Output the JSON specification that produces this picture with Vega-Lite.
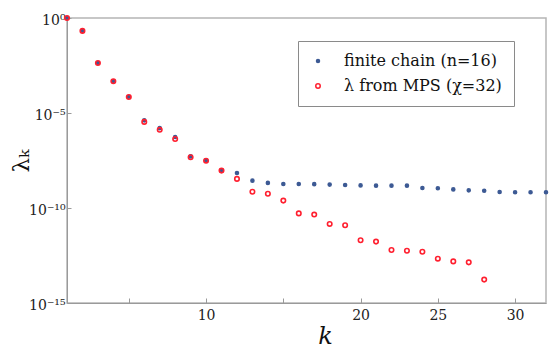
{
  "$schema": "https://vega.github.io/schema/vega-lite/v6.json",
  "width": 479,
  "height": 285,
  "autosize": {"type": "none"},
  "padding": {"left": 67, "top": 18, "right": 8, "bottom": 49},
  "background": "white",
  "config": {
    "view": {"stroke": "#b5b5b5", "strokeWidth": 1.5},
    "font": "DejaVu Serif",
    "axis": {"domainColor": "#9a9a9a", "tickColor": "#9a9a9a", "grid": false, "labelFont": "DejaVu Serif", "labelColor": "#222", "titleFont": "DejaVu Serif", "titleColor": "#111"},
    "legend": {"labelFont": "DejaVu Serif"}
  },
  "data": {
    "values": [
      {"k": 1, "lam": 1, "series": "finite chain (n=16)"},
      {"k": 2, "lam": 0.21, "series": "finite chain (n=16)"},
      {"k": 3, "lam": 0.0043, "series": "finite chain (n=16)"},
      {"k": 4, "lam": 0.00047, "series": "finite chain (n=16)"},
      {"k": 5, "lam": 0.000072, "series": "finite chain (n=16)"},
      {"k": 6, "lam": 4.1e-6, "series": "finite chain (n=16)"},
      {"k": 7, "lam": 1.6e-6, "series": "finite chain (n=16)"},
      {"k": 8, "lam": 5.5e-7, "series": "finite chain (n=16)"},
      {"k": 9, "lam": 5.2e-8, "series": "finite chain (n=16)"},
      {"k": 10, "lam": 3.2e-8, "series": "finite chain (n=16)"},
      {"k": 11, "lam": 9.3e-9, "series": "finite chain (n=16)"},
      {"k": 12, "lam": 6.9e-9, "series": "finite chain (n=16)"},
      {"k": 13, "lam": 2.75e-9, "series": "finite chain (n=16)"},
      {"k": 14, "lam": 2.1e-9, "series": "finite chain (n=16)"},
      {"k": 15, "lam": 1.82e-9, "series": "finite chain (n=16)"},
      {"k": 16, "lam": 1.82e-9, "series": "finite chain (n=16)"},
      {"k": 17, "lam": 1.8e-9, "series": "finite chain (n=16)"},
      {"k": 18, "lam": 1.7e-9, "series": "finite chain (n=16)"},
      {"k": 19, "lam": 1.62e-9, "series": "finite chain (n=16)"},
      {"k": 20, "lam": 1.55e-9, "series": "finite chain (n=16)"},
      {"k": 21, "lam": 1.5e-9, "series": "finite chain (n=16)"},
      {"k": 22, "lam": 1.5e-9, "series": "finite chain (n=16)"},
      {"k": 23, "lam": 1.5e-9, "series": "finite chain (n=16)"},
      {"k": 24, "lam": 1.12e-9, "series": "finite chain (n=16)"},
      {"k": 25, "lam": 1.1e-9, "series": "finite chain (n=16)"},
      {"k": 26, "lam": 9.5e-10, "series": "finite chain (n=16)"},
      {"k": 27, "lam": 8.5e-10, "series": "finite chain (n=16)"},
      {"k": 28, "lam": 8.1e-10, "series": "finite chain (n=16)"},
      {"k": 29, "lam": 6.9e-10, "series": "finite chain (n=16)"},
      {"k": 30, "lam": 6.8e-10, "series": "finite chain (n=16)"},
      {"k": 31, "lam": 6.8e-10, "series": "finite chain (n=16)"},
      {"k": 32, "lam": 6.8e-10, "series": "finite chain (n=16)"},
      {"k": 1, "lam": 1, "series": "λ from MPS (χ=32)"},
      {"k": 2, "lam": 0.21, "series": "λ from MPS (χ=32)"},
      {"k": 3, "lam": 0.0043, "series": "λ from MPS (χ=32)"},
      {"k": 4, "lam": 0.00047, "series": "λ from MPS (χ=32)"},
      {"k": 5, "lam": 0.00007, "series": "λ from MPS (χ=32)"},
      {"k": 6, "lam": 3.4e-6, "series": "λ from MPS (χ=32)"},
      {"k": 7, "lam": 1.3e-6, "series": "λ from MPS (χ=32)"},
      {"k": 8, "lam": 4.3e-7, "series": "λ from MPS (χ=32)"},
      {"k": 9, "lam": 4.7e-8, "series": "λ from MPS (χ=32)"},
      {"k": 10, "lam": 3.1e-8, "series": "λ from MPS (χ=32)"},
      {"k": 11, "lam": 9.3e-9, "series": "λ from MPS (χ=32)"},
      {"k": 12, "lam": 3.4e-9, "series": "λ from MPS (χ=32)"},
      {"k": 13, "lam": 7.2e-10, "series": "λ from MPS (χ=32)"},
      {"k": 14, "lam": 5.6e-10, "series": "λ from MPS (χ=32)"},
      {"k": 15, "lam": 2.45e-10, "series": "λ from MPS (χ=32)"},
      {"k": 16, "lam": 5.2e-11, "series": "λ from MPS (χ=32)"},
      {"k": 17, "lam": 4.5e-11, "series": "λ from MPS (χ=32)"},
      {"k": 18, "lam": 1.45e-11, "series": "λ from MPS (χ=32)"},
      {"k": 19, "lam": 1.23e-11, "series": "λ from MPS (χ=32)"},
      {"k": 20, "lam": 2.0e-12, "series": "λ from MPS (χ=32)"},
      {"k": 21, "lam": 1.7e-12, "series": "λ from MPS (χ=32)"},
      {"k": 22, "lam": 6.2e-13, "series": "λ from MPS (χ=32)"},
      {"k": 23, "lam": 5.6e-13, "series": "λ from MPS (χ=32)"},
      {"k": 24, "lam": 5.0e-13, "series": "λ from MPS (χ=32)"},
      {"k": 25, "lam": 2.15e-13, "series": "λ from MPS (χ=32)"},
      {"k": 26, "lam": 1.55e-13, "series": "λ from MPS (χ=32)"},
      {"k": 27, "lam": 1.38e-13, "series": "λ from MPS (χ=32)"},
      {"k": 28, "lam": 1.7e-14, "series": "λ from MPS (χ=32)"}
    ]
  },
  "mark": {"type": "point", "strokeWidth": 1.6, "opacity": 1},
  "encoding": {
    "x": {
      "field": "k", "type": "quantitative",
      "scale": {"domain": [1, 32], "nice": false, "zero": false},
      "axis": {
        "values": [5, 10, 15, 20, 25, 30],
        "labelExpr": "datum.value == 5 || datum.value == 15 ? '' : datum.label",
        "tickSize": -5, "labelPadding": 10, "labelFontSize": 14,
        "title": "k", "titleFontSize": 24, "titleFontStyle": "italic", "titleFontWeight": "normal",
        "titleX": 258, "titlePadding": 2
      }
    },
    "y": {
      "field": "lam", "type": "quantitative",
      "scale": {"type": "log", "domain": [1e-15, 1], "nice": false},
      "axis": {
        "values": [1, 1e-5, 1e-10, 1e-15],
        "labelExpr": "datum.value >= 0.5 ? '10⁰' : datum.value >= 1e-6 ? '10⁻⁵' : datum.value >= 1e-11 ? '10⁻¹⁰' : '10⁻¹⁵'",
        "tickSize": -4, "labelPadding": 6, "labelFontSize": 14, "labelOffset": 2,
        "title": "λₖ", "titleFontSize": 23, "titleFontWeight": "normal",
        "titleX": -46, "titleBaseline": "middle"
      }
    },
    "stroke": {
      "field": "series", "type": "nominal",
      "scale": {"domain": ["finite chain (n=16)", "λ from MPS (χ=32)"], "range": ["#3d5a94", "#ff1f2f"]},
      "legend": {
        "title": null, "orient": "none", "legendX": 231, "legendY": 23,
        "strokeColor": "#8a8a8a", "fillColor": "white", "padding": 12,
        "labelFont": "DejaVu Serif", "labelFontSize": 16, "labelColor": "#111",
        "symbolType": "circle", "rowPadding": 9, "labelOffset": 18, "labelLimit": 300
      }
    },
    "fill": {
      "field": "series", "type": "nominal",
      "scale": {"domain": ["finite chain (n=16)", "λ from MPS (χ=32)"], "range": ["#3d5a94", "transparent"]}
    },
    "size": {
      "field": "series", "type": "nominal",
      "scale": {"domain": ["finite chain (n=16)", "λ from MPS (χ=32)"], "range": [9, 20]}
    }
  }
}
